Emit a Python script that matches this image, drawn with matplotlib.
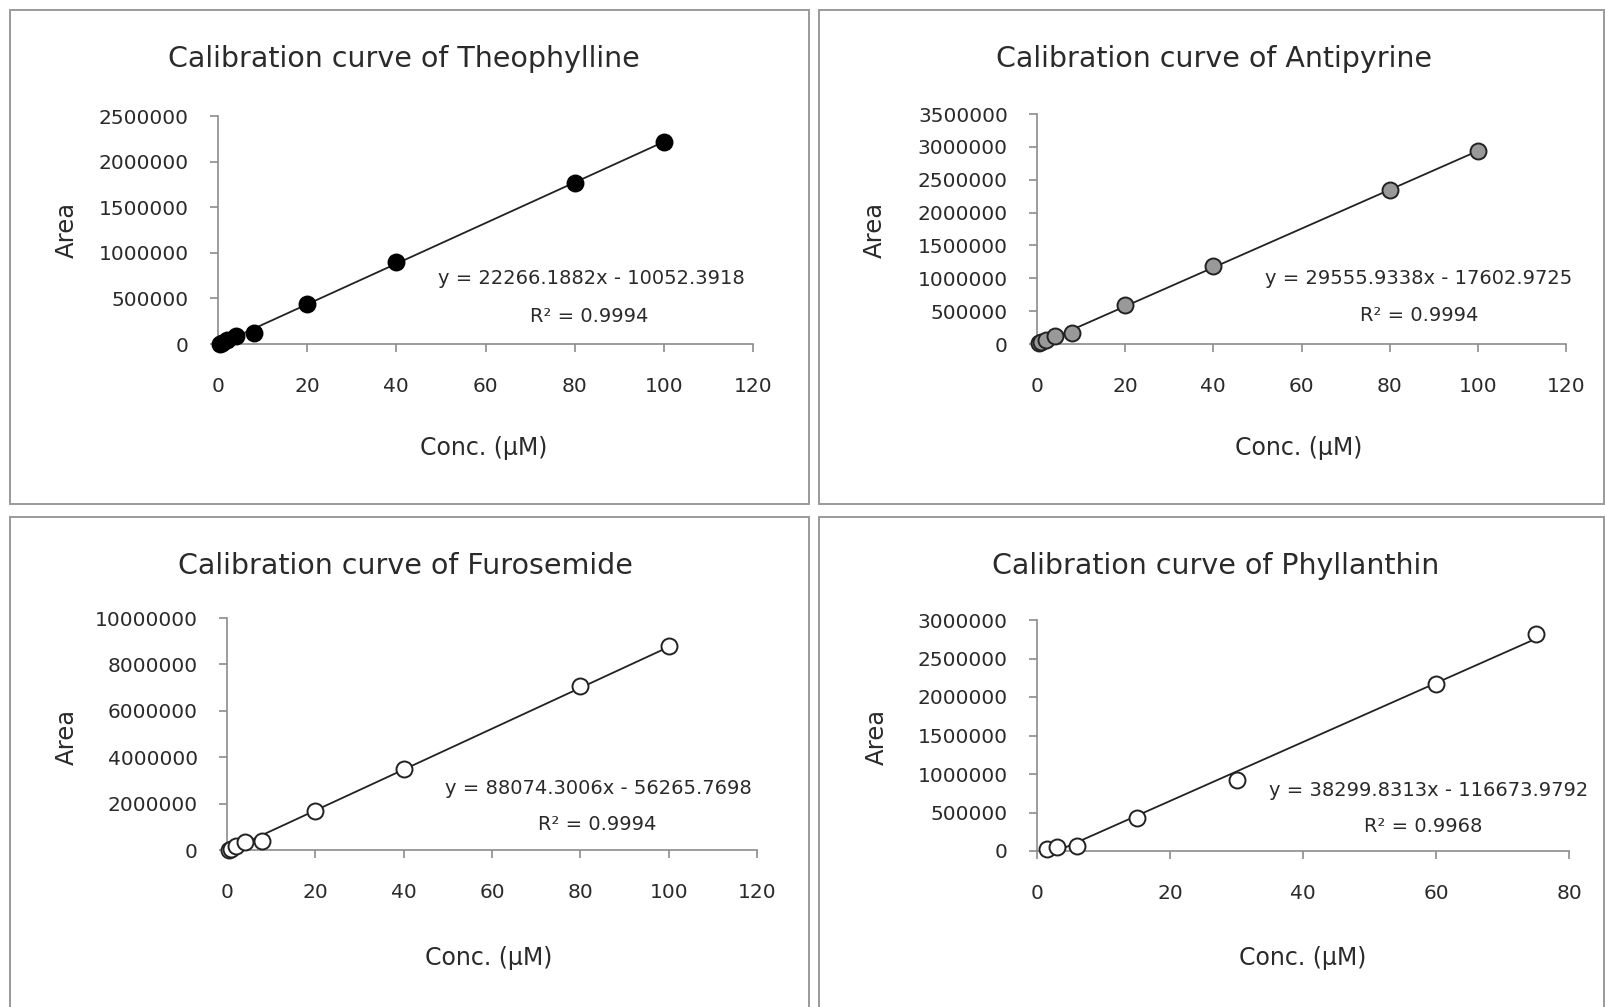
import matplotlib
matplotlib.use("Agg")
import matplotlib.pyplot as plt
from matplotlib.patches import Rectangle
import numpy as np

plt.rcParams['font.family'] = ['DejaVu Sans']

# ---------------- data ----------------
theo_x = [0.5, 1, 2, 4, 8, 20, 40, 80, 100]
theo_y = [5000, 15000, 40000, 85000, 120000, 440000, 900000, 1760000, 2220000]
theo_fit = [22266.1882, -10052.3918]
theo_r2 = "0.9994"

anti_x = [0.5, 1, 2, 4, 8, 20, 40, 80, 100]
anti_y = [10000, 25000, 60000, 120000, 160000, 600000, 1190000, 2350000, 2940000]
anti_fit = [29555.9338, -17602.9725]
anti_r2 = "0.9994"

furo_x = [0.5, 1, 2, 4, 8, 20, 40, 80, 100]
furo_y = [0, 50000, 180000, 350000, 400000, 1700000, 3500000, 7050000, 8800000]
furo_fit = [88074.3006, -56265.7698]
furo_r2 = "0.9994"

phyl_x = [1.5, 3, 6, 15, 30, 60, 75]
phyl_y = [20000, 50000, 60000, 430000, 920000, 2170000, 2820000]
phyl_fit = [38299.8313, -116673.9792]
phyl_r2 = "0.9968"

titles = ["Calibration curve of Theophylline", "Calibration curve of Antipyrine",
          "Calibration curve of Furosemide", "Calibration curve of Phyllanthin"]
x_ticks_a = [0, 20, 40, 60, 80, 100, 120]
x_ticks_b = [0, 20, 40, 60, 80]
y_ticks_theo = [0, 500000, 1000000, 1500000, 2000000, 2500000]
y_ticks_anti = [0, 500000, 1000000, 1500000, 2000000, 2500000, 3000000, 3500000]
y_ticks_furo = [0, 2000000, 4000000, 6000000, 8000000, 10000000]
y_ticks_phyl = [0, 500000, 1000000, 1500000, 2000000, 2500000, 3000000]
x_label = "Conc. (µM)"
y_label = "Area"

# ---------------- layout ----------------
W, H = 1605, 1007
fig = plt.figure(figsize=(W / 100, H / 100), dpi=100)
fig.patch.set_facecolor("white")

def fx(px):
    return px / W

def fy(py):
    return 1 - py / H

TXT = "#2a2a2a"
SP = "#8c8c8c"

# panel borders (left, top, right, bottom) in px
panels = [(10, 10, 809, 504), (819, 10, 1604, 504), (10, 517, 809, 1010), (819, 517, 1604, 1010)]
for (l, t, r, b) in panels:
    fig.patches.append(Rectangle((fx(l), fy(b)), fx(r - l), fy(t) - fy(b), transform=fig.transFigure,
                                 fill=False, edgecolor="#9a9a9a", linewidth=1.4))

# axes boxes: left, top, right, bottom in px
boxes = [(218, 116, 753, 344), (1037, 114, 1566, 344), (227, 618, 757, 850), (1037, 620, 1569, 851)]

specs = [
    dict(x=theo_x, y=theo_y, fit=theo_fit, r2=theo_r2, xt=x_ticks_a, yt=y_ticks_theo,
         fc="black", ec="black", eq=(591, 279), rr=(589, 316), title=(404, 59), xl=(484, 448), yl=(67, 230)),
    dict(x=anti_x, y=anti_y, fit=anti_fit, r2=anti_r2, xt=x_ticks_a, yt=y_ticks_anti,
         fc="#999999", ec="#222222", eq=(1419, 279), rr=(1419, 315), title=(1214, 59), xl=(1299, 448), yl=(875, 230)),
    dict(x=furo_x, y=furo_y, fit=furo_fit, r2=furo_r2, xt=x_ticks_a, yt=y_ticks_furo,
         fc="white", ec="#222222", eq=(598, 788), rr=(597, 824), title=(405, 566), xl=(489, 958), yl=(67, 737)),
    dict(x=phyl_x, y=phyl_y, fit=phyl_fit, r2=phyl_r2, xt=x_ticks_b, yt=y_ticks_phyl,
         fc="white", ec="#222222", eq=(1429, 790), rr=(1423, 827), title=(1216, 566), xl=(1303, 958), yl=(877, 737)),
]

for i, (box, s) in enumerate(zip(boxes, specs)):
    l, t, r, b = box
    ax = fig.add_axes([fx(l), fy(b), fx(r - l), fy(t) - fy(b)])
    ax.set_xlim(s["xt"][0], s["xt"][-1])
    ax.set_ylim(s["yt"][0], s["yt"][-1])
    ax.set_xticks(s["xt"])
    ax.set_yticks(s["yt"])
    ax.set_xticklabels([str(v) for v in s["xt"]])
    ax.set_yticklabels([str(v) for v in s["yt"]])
    for side in ["top", "right"]:
        ax.spines[side].set_visible(False)
    for side in ["left", "bottom"]:
        ax.spines[side].set_color(SP)
        ax.spines[side].set_linewidth(1.2)
    ax.tick_params(axis="both", direction="out", color=SP, length=6, width=1.2,
                   labelsize=14.5, labelcolor=TXT)
    ax.tick_params(axis="x", pad=18)
    ax.tick_params(axis="y", pad=15)
    ax.set_facecolor("none")

    slope, icpt = s["fit"]
    xs = np.array([min(s["x"]), max(s["x"])])
    ax.plot(xs, slope * xs + icpt, color="#222222", linewidth=1.3, zorder=2)
    ax.plot(s["x"], s["y"], linestyle="none", marker="o", markersize=11.5,
            markerfacecolor=s["fc"], markeredgecolor=s["ec"], markeredgewidth=1.4,
            clip_on=False, zorder=3)

    sign = "-" if icpt < 0 else "+"
    eq_txt = f"y = {slope:.4f}x {sign} {abs(icpt):.4f}"
    fig.text(fx(s["eq"][0]), fy(s["eq"][1]), eq_txt, ha="center", va="center",
             fontsize=14, color=TXT)
    fig.text(fx(s["rr"][0]), fy(s["rr"][1]), f"R² = {s['r2']}", ha="center", va="center",
             fontsize=14, color=TXT)
    fig.text(fx(s["title"][0]), fy(s["title"][1]), titles[i], ha="center", va="center",
             fontsize=20.5, color=TXT)
    fig.text(fx(s["xl"][0]), fy(s["xl"][1]), x_label, ha="center", va="center",
             fontsize=17, color=TXT)
    fig.text(fx(s["yl"][0]), fy(s["yl"][1]), y_label, ha="center", va="center",
             fontsize=17.5, color=TXT, rotation=90)

fig.savefig("out.png", dpi=100, facecolor="white")
